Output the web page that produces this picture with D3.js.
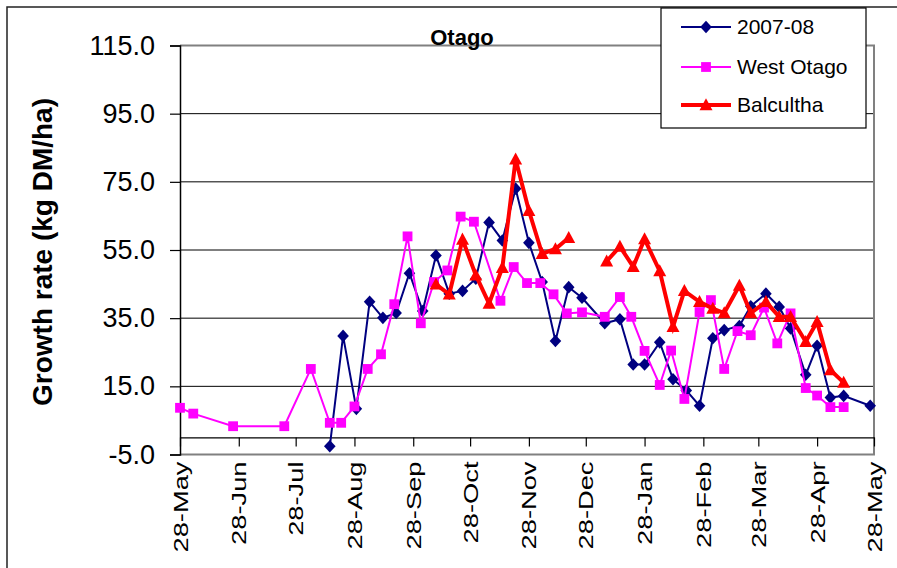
<!DOCTYPE html>
<html>
<head>
<meta charset="utf-8">
<script src="https://cdn.jsdelivr.net/npm/d3@7"></script>
<style>
  html, body { margin: 0; padding: 0; background: #fff; }
  svg { display: block; font-family: "Liberation Sans", Arial, sans-serif; }
</style>
</head>
<body>
<svg id="chart" width="897" height="568"></svg>
<script>
// ---- data ----
const xDomain = ["2007-05-28", "2008-05-28"];
const xTickDates = ["2007-05-28","2007-06-28","2007-07-28","2007-08-28","2007-09-28","2007-10-28",
  "2007-11-28","2007-12-28","2008-01-28","2008-02-28","2008-03-28","2008-04-28","2008-05-28"];
const yTicks = [-5, 15, 35, 55, 75, 95, 115];

const dates2007 = ["2007-08-15","2007-08-22","2007-08-29","2007-09-05","2007-09-12","2007-09-19","2007-09-26",
  "2007-10-03","2007-10-10","2007-10-17","2007-10-24","2007-10-31","2007-11-07","2007-11-14","2007-11-21",
  "2007-11-28","2007-12-05","2007-12-12","2007-12-19","2007-12-26","2008-01-07","2008-01-15","2008-01-22",
  "2008-01-28","2008-02-05","2008-02-12","2008-02-19","2008-02-26","2008-03-04","2008-03-10","2008-03-18",
  "2008-03-24","2008-04-01","2008-04-08","2008-04-14","2008-04-22","2008-04-28","2008-05-05","2008-05-12","2008-05-26"];
const values2007 = [-2.6, 29.8, 8.4, 39.8, 35.1, 36.5, 48.2, 37.1, 53.4, 42.2, 43.0, 46.6, 63.1, 57.8, 73.0,
  57.1, 45.6, 28.3, 44.1, 41.0, 33.5, 34.7, 21.4, 21.4, 27.9, 17.1, 13.8, 9.3, 29.1, 31.5, 32.7, 38.5, 42.2,
  38.3, 32.0, 18.4, 26.9, 11.7, 12.2, 9.3];

const datesWest = ["2007-05-28","2007-06-04","2007-06-25","2007-07-22","2007-08-05","2007-08-15","2007-08-21",
  "2007-08-28","2007-09-04","2007-09-11","2007-09-18","2007-09-25","2007-10-02","2007-10-09","2007-10-16",
  "2007-10-23","2007-10-30","2007-11-13","2007-11-20","2007-11-27","2007-12-04","2007-12-11","2007-12-18",
  "2007-12-26","2008-01-07","2008-01-15","2008-01-21","2008-01-28","2008-02-05","2008-02-11","2008-02-18",
  "2008-02-26","2008-03-03","2008-03-10","2008-03-17","2008-03-24","2008-03-31","2008-04-07","2008-04-14",
  "2008-04-22","2008-04-28","2008-05-05","2008-05-12"];
const valuesWest = [8.7, 7.0, 3.3, 3.3, 20.1, 4.3, 4.3, 9.1, 20.1, 24.4, 39.1, 59.0, 33.5, 45.6, 49.0, 64.8,
  63.3, 40.1, 50.0, 45.3, 45.3, 42.0, 36.4, 36.7, 35.4, 41.2, 35.4, 25.4, 15.4, 25.5, 11.3, 36.8, 40.3, 20.1,
  31.2, 30.0, 38.1, 27.6, 36.4, 14.5, 12.3, 8.9, 8.9];

const datesBal = ["2007-10-10","2007-10-17","2007-10-24","2007-10-31","2007-11-07","2007-11-14","2007-11-21",
  "2007-11-28","2007-12-05","2007-12-12","2007-12-19","2007-12-26","2008-01-08","2008-01-15","2008-01-22",
  "2008-01-28","2008-02-05","2008-02-12","2008-02-18","2008-02-26","2008-03-04","2008-03-10","2008-03-18",
  "2008-03-24","2008-04-01","2008-04-08","2008-04-14","2008-04-22","2008-04-28","2008-05-05","2008-05-12"];
const valuesBal = [44.9, 42.0, 58.1, 47.6, 39.3, 49.8, 81.6, 66.5, 53.9, 55.3, 58.6, null, 51.7, 56.0, 50.1,
  58.2, 48.8, 32.5, 43.0, 39.8, 37.8, 36.5, 44.6, 36.5, 39.8, 35.4, 35.4, 28.1, 33.9, 19.8, 16.1];

const seriesNames = ["2007-08", "West Otago", "Balcultha"];

// ---- drawing ----
const parse = d3.timeParse("%Y-%m-%d");
const svg = d3.select("#chart");
const plot = { left: 180, right: 874, top: 45.5, bottom: 454.5 };

const x = d3.scaleTime().domain(xDomain.map(parse)).range([plot.left, plot.right]);
const y = d3.scaleLinear().domain([-5, 115]).range([plot.bottom, plot.top]);

// outer frame
svg.append("rect").attr("x", 7).attr("y", 7).attr("width", 960).attr("height", 640)
  .attr("fill", "#fff").attr("stroke", "#222").attr("stroke-width", 1.5);

// gridlines
svg.append("g").selectAll("line").data(yTicks.filter(t => t > -5 && t < 115)).join("line")
  .attr("x1", plot.left).attr("x2", plot.right)
  .attr("y1", d => y(d)).attr("y2", d => y(d))
  .attr("stroke", "#000").attr("stroke-width", 1);

// plot border (gray) top/right/bottom
svg.append("path")
  .attr("d", `M${plot.left},${plot.top}H${plot.right}V${plot.bottom}H${plot.left}`)
  .attr("fill", "none").attr("stroke", "#808080").attr("stroke-width", 2);

// y axis
const yAxis = d3.axisLeft(y).tickValues(yTicks).tickFormat(d => d.toFixed(1)).tickSize(10).tickPadding(15);
const gy = svg.append("g").attr("transform", `translate(${plot.left},0)`).call(yAxis);
gy.select(".domain").attr("stroke", "#000").attr("stroke-width", 1.5);
gy.selectAll(".tick line").attr("stroke", "#000").attr("stroke-width", 1.2);
gy.selectAll(".tick text").attr("font-size", 27).attr("fill", "#000")
  .attr("font-family", "'Liberation Sans', Arial, sans-serif");

// x axis at y = 0
const xAxis = d3.axisBottom(x).tickValues(xTickDates.map(parse)).tickFormat("").tickSize(9).tickSizeOuter(0);
const gx = svg.append("g").attr("transform", `translate(0,${y(0)})`).call(xAxis);
gx.select(".domain").attr("stroke", "#000").attr("stroke-width", 1.2);
gx.selectAll(".tick line").attr("stroke", "#000").attr("stroke-width", 1.2);

// x labels rotated, below plot (stretched along their length as in the original)
const fmt = d3.timeFormat("%d-%b");
svg.append("g").selectAll("text").data(xTickDates.map(parse)).join("text")
  .attr("transform", d => `translate(${x(d)},${plot.bottom + 7}) rotate(-90) scale(1.3,1)`)
  .attr("text-anchor", "end").attr("dy", "0.36em")
  .attr("font-size", 21).attr("fill", "#000")
  .text(d => fmt(d));

// y title
svg.append("text")
  .attr("transform", `translate(42,252) rotate(-90)`)
  .attr("text-anchor", "middle").attr("dy", "0.35em")
  .attr("font-size", 28).attr("font-weight", "bold").attr("fill", "#000")
  .text("Growth rate (kg DM/ha)");

// title
svg.append("text").attr("x", 462).attr("y", 45).attr("text-anchor", "middle")
  .attr("font-size", 22).attr("font-weight", "bold").attr("fill", "#000").text("Otago");

// series
const series = [
  { name: seriesNames[0], dates: dates2007, values: values2007, color: "#000080", width: 2, marker: "diamond" },
  { name: seriesNames[1], dates: datesWest, values: valuesWest, color: "#FF00FF", width: 2, marker: "square" },
  { name: seriesNames[2], dates: datesBal, values: valuesBal, color: "#FF0000", width: 4, marker: "triangle" }
];
const markerPath = {
  diamond: "M0,-6.3L5.8,0L0,6.3L-5.8,0Z",
  square: "M-4.9,-4.9H4.9V4.9H-4.9Z",
  triangle: "M0,-6.8L6.5,5.2L-6.5,5.2Z"
};

const line = d3.line().defined(d => d.v != null).x(d => x(d.d)).y(d => y(d.v));
series.forEach(s => {
  const pts = s.dates.map((d, i) => ({ d: parse(d), v: s.values[i] }));
  svg.append("path").datum(pts).attr("d", line)
    .attr("fill", "none").attr("stroke", s.color).attr("stroke-width", s.width)
    .attr("stroke-linejoin", "miter");
  svg.append("g").selectAll("path").data(pts.filter(p => p.v != null)).join("path")
    .attr("transform", p => `translate(${x(p.d)},${y(p.v)})`)
    .attr("d", markerPath[s.marker]).attr("fill", s.color);
});

// legend
const lg = svg.append("g");
lg.append("rect").attr("x", 661).attr("y", 8).attr("width", 205).attr("height", 120)
  .attr("fill", "#fff").attr("stroke", "#000").attr("stroke-width", 1.2);
const legY = [27, 67, 105];
series.forEach((s, i) => {
  lg.append("line").attr("x1", 681).attr("x2", 731).attr("y1", legY[i]).attr("y2", legY[i])
    .attr("stroke", s.color).attr("stroke-width", s.width);
  lg.append("path").attr("transform", `translate(706,${legY[i]})`).attr("d", markerPath[s.marker]).attr("fill", s.color);
  lg.append("text").attr("x", 737).attr("y", legY[i]).attr("dy", "0.35em")
    .attr("font-size", 21).attr("fill", "#000").text(s.name);
});
</script>
</body>
</html>
